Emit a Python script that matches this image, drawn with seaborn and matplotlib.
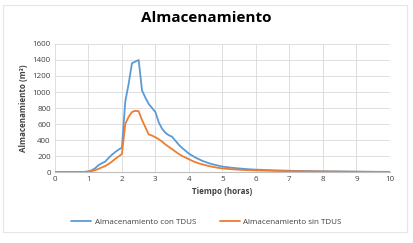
import numpy as np
import pandas as pd
import matplotlib
matplotlib.use('Agg')
import matplotlib.pyplot as plt
import seaborn as sns

# Data
tiempo = [0.0, 0.2, 0.4, 0.6, 0.8, 0.9, 1.0, 1.1, 1.2, 1.3, 1.4, 1.5, 1.6, 1.7, 1.8, 1.9, 2.0,
          2.1, 2.2, 2.3, 2.4, 2.5, 2.6, 2.7, 2.8, 2.9, 3.0, 3.1, 3.2, 3.3, 3.4, 3.5, 3.6,
          3.7, 3.8, 3.9, 4.0, 4.1, 4.2, 4.3, 4.4, 4.5, 4.6, 4.7, 4.8, 4.9, 5.0, 5.25, 5.5,
          5.75, 6.0, 6.5, 7.0, 7.5, 8.0, 8.5, 9.0, 9.5, 10.0]
con_tdus = [0, 0, 0, 0, 1, 3, 8, 22, 48, 85, 110, 130, 175, 215, 250, 280, 305,
            880, 1100, 1360, 1380, 1400, 1020, 930, 850, 800, 750, 620, 540, 490, 460, 440, 390,
            340, 300, 265, 230, 205, 180, 160, 140, 125, 110, 98, 88, 78, 68, 55, 45,
            36, 30, 22, 16, 12, 9, 7, 5, 3, 2]
sin_tdus = [0, 0, 0, 0, 0, 2, 5, 12, 22, 40, 58, 75, 100, 130, 165, 195, 225,
            600, 690, 750, 765, 760, 650, 560, 470, 455, 435, 410, 380, 345, 315, 285, 255,
            225, 200, 180, 160, 140, 122, 108, 96, 85, 75, 66, 58, 51, 45, 36, 29,
            24, 20, 15, 11, 8, 6, 5, 3, 2, 1]

df = pd.DataFrame({'Tiempo': tiempo, 'con': con_tdus, 'sin': sin_tdus})

sns.set_theme(style='white')
plt.rcParams['font.family'] = ['Open Sans', 'DejaVu Sans']

fig = plt.figure(figsize=(4.13, 2.43), dpi=100)
ax = fig.add_axes([0.133, 0.292, 0.811, 0.527])

sns.lineplot(data=df, x='Tiempo', y='con', ax=ax, color='#5B9BD5', linewidth=1.3,
             label='Almacenamiento con TDUS')
sns.lineplot(data=df, x='Tiempo', y='sin', ax=ax, color='#ED7D31', linewidth=1.3,
             label='Almacenamiento sin TDUS')

ax.set_xlim(0, 10)
ax.set_ylim(0, 1600)
ax.set_xticks(range(0, 11))
ax.set_yticks(range(0, 1601, 200))
ax.grid(True, color='#D9D9D9', linewidth=0.6)
for s in ['top', 'right', 'left']:
    ax.spines[s].set_visible(False)
ax.spines['bottom'].set_color('#BFBFBF')
ax.spines['bottom'].set_linewidth(0.8)
ax.tick_params(axis='both', labelsize=5.8, colors='#404040', length=0, pad=3)

ax.set_xlabel('Tiempo (horas)', fontsize=5.8, fontweight='bold', color='#404040', labelpad=3)
ax.set_ylabel('Almacenamiento (m³)', fontsize=5.8, fontweight='bold', color='#404040', labelpad=3)
fig.suptitle('Almacenamiento', fontsize=11, fontweight='bold', color='#000000', y=0.955)

ax.get_legend().remove()
handles, labels = ax.get_legend_handles_labels()
fig.legend(handles, labels, loc='center', bbox_to_anchor=(0.5, 0.087), ncol=2,
           fontsize=5.8, frameon=False, handlelength=2.5, columnspacing=3,
           handletextpad=0.4, labelcolor='#404040')

fig.patches.append(matplotlib.patches.Rectangle((0.007, 0.045), 0.978, 0.934, transform=fig.transFigure,
                                                fill=False, edgecolor='#E6E6E6', linewidth=0.8))

fig.savefig('out.png', dpi=100)
